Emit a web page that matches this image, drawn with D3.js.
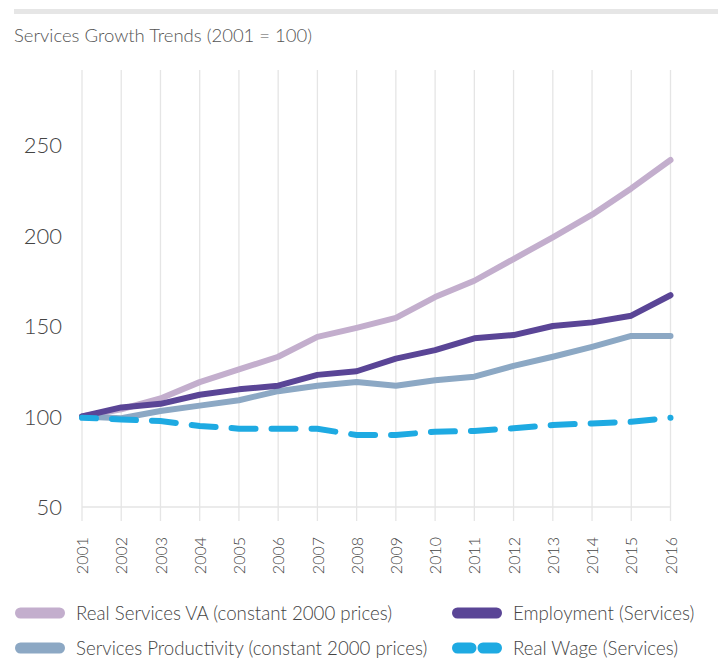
<!DOCTYPE html>
<html><head><meta charset="utf-8">
<script src="https://cdn.jsdelivr.net/npm/d3@7"></script>
<style>
body{margin:0;background:#fff;font-family:Lato,"Open Sans",sans-serif;}
</style></head><body>
<svg id="c" width="718" height="671"></svg>
<script>
const years = ["2001","2002","2003","2004","2005","2006","2007","2008","2009","2010","2011","2012","2013","2014","2015","2016"];
const realVA = [100,104,110,119,126,133,144,149,154.5,166,175,187,199,211.5,226,241.7];
const employment = [100,105,107,112,115,117,123,125,132,136.7,143.2,145,150,152,155.7,167];
const productivity = [100,99,103,106,109,114,117,119,117,120,122,128,133,138.5,144.5,144.5];
const realWage = [99.3,98.4,97.5,94.8,93.3,93.2,93.2,89.8,89.8,91.6,92,93.5,95.3,96.2,97.1,99.3];
const yTicks = [50,100,150,200,250];
const seriesNames = ["Real Services VA (constant 2000 prices)","Employment (Services)","Services Productivity (constant 2000 prices)","Real Wage (Services)"];

const colors = ["#c3aecd","#5a4596","#8ca8c4","#1eaae2"];
const series = [realVA, employment, productivity, realWage];

const svg = d3.select("#c");
svg.append("rect").attr("x",14).attr("y",9).attr("width",704).attr("height",5).attr("fill","#e6e6e6");
svg.append("text").attr("x",14).attr("y",42).attr("font-size",18.5).attr("font-weight",300).attr("fill","#555").text("Services Growth Trends (2001 = 100)");

const x = d3.scalePoint().domain(years).range([82,670.5]);
const y = d3.scaleLinear().domain([50,250]).range([507,145]);

// vertical gridlines
const g = svg.append("g");
g.selectAll("line.v").data(years).join("line")
  .attr("x1",d=>x(d)).attr("x2",d=>x(d)).attr("y1",70).attr("y2",521)
  .attr("stroke","#e5e5e5").attr("stroke-width",1.3);
g.append("line").attr("x1",x(years[0])).attr("x2",x(years[years.length-1])).attr("y1",y(50)).attr("y2",y(50))
  .attr("stroke","#e5e5e5").attr("stroke-width",1.3);

// y axis labels
const yAxis = d3.axisLeft(y).tickValues(yTicks).tickSize(0).tickPadding(0);
const ya = svg.append("g").attr("transform","translate(62,0)").call(yAxis);
ya.select(".domain").remove();
ya.selectAll("text").attr("font-size",22).attr("font-family","Lato").attr("font-weight",300).attr("fill","#444").attr("dy","0.35em");

// x axis labels
const xAxis = d3.axisBottom(x).tickSize(0).tickPadding(0);
const xa = svg.append("g").attr("transform","translate(0,537)").call(xAxis);
xa.select(".domain").remove();
xa.selectAll("text").attr("font-size",16).attr("font-family","Lato").attr("font-weight",300).attr("fill","#444")
  .attr("transform","rotate(-90)").attr("text-anchor","end").attr("dy","0.35em").attr("y",0).attr("x",0);

const line = d3.line().x((d,i)=>x(years[i])).y(d=>y(d));
[0,2,1].forEach(k=>{
  svg.append("path").datum(series[k]).attr("d",line).attr("fill","none")
    .attr("stroke",colors[k]).attr("stroke-width",6).attr("stroke-linejoin","round").attr("stroke-linecap","round");
});
svg.append("path").datum(realWage).attr("d",line).attr("fill","none")
  .attr("stroke",colors[3]).attr("stroke-width",6).attr("stroke-linecap","round")
  .attr("stroke-dasharray","24,16").attr("stroke-dashoffset",10);

// legend
const leg = [
  {i:0,x:15,y:613},{i:1,x:452,y:613},{i:2,x:15,y:648},{i:3,x:452,y:648}
];
leg.forEach(l=>{
  const gg = svg.append("g");
  if(l.i===3){
    gg.append("line").attr("x1",l.x+5.5).attr("x2",l.x+19).attr("y1",l.y).attr("y2",l.y)
      .attr("stroke",colors[3]).attr("stroke-width",11).attr("stroke-linecap","round");
    gg.append("line").attr("x1",l.x+31).attr("x2",l.x+44.5).attr("y1",l.y).attr("y2",l.y)
      .attr("stroke",colors[3]).attr("stroke-width",11).attr("stroke-linecap","round");
  } else {
    gg.append("line").attr("x1",l.x+5.5).attr("x2",l.x+44.5).attr("y1",l.y).attr("y2",l.y)
      .attr("stroke",colors[l.i]).attr("stroke-width",11).attr("stroke-linecap","round");
  }
  gg.append("text").attr("x",l.x+61).attr("y",l.y).attr("dy","0.35em").attr("font-size",18.7)
    .attr("font-weight",300).attr("fill","#444").text(seriesNames[l.i]);
});
</script></body></html>
